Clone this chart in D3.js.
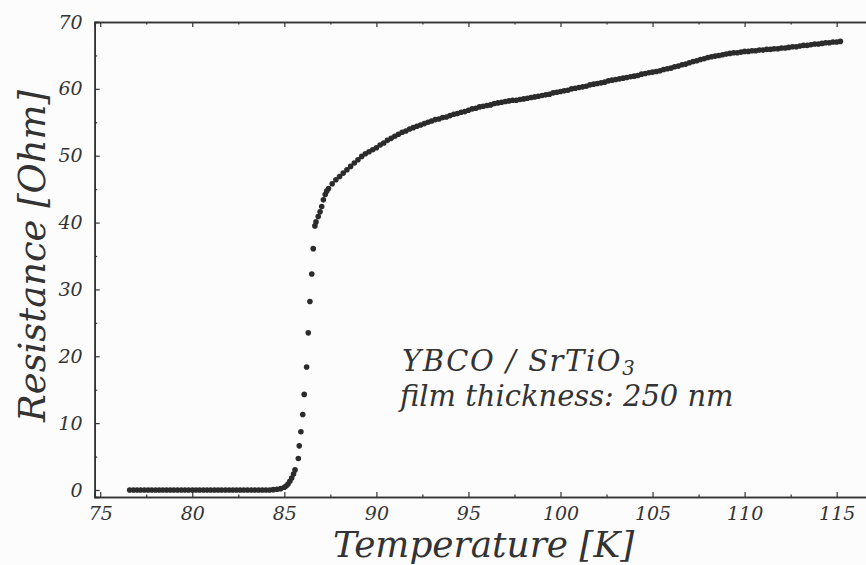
<!DOCTYPE html>
<html>
<head>
<meta charset="utf-8">
<script src="https://cdn.jsdelivr.net/npm/d3@7"></script>
<style>
  html, body { margin: 0; padding: 0; background: #fcfcfc; }
  svg { display: block; }
  text { font-family: "DejaVu Serif", "Liberation Serif", serif; font-style: italic; fill: #333; }
</style>
</head>
<body>
<svg id="chart" width="866" height="565"></svg>
<script>
// R(T) of a YBCO film on SrTiO3: superconducting plateau, transition, normal state
const tempK = [
  76.6, 76.8, 77.0, 77.2, 77.4, 77.6, 77.8, 78.0, 78.2, 78.4, 78.6, 78.8, 79.0, 79.2,
  79.4, 79.6, 79.8, 80.0, 80.2, 80.4, 80.6, 80.8, 81.0, 81.2, 81.4, 81.6, 81.8, 82.0,
  82.2, 82.4, 82.6, 82.8, 83.0, 83.2, 83.4, 83.6, 83.8, 84.0, 84.2, 84.4, 84.6,
  84.8, 85.0, 85.1, 85.2, 85.3, 85.4, 85.5, 85.58, 85.76, 85.81, 85.90, 86.00, 86.08,
  86.21, 86.30, 86.39, 86.49, 86.57, 86.66, 86.72, 86.84, 86.94, 87.03, 87.12, 87.22, 87.30,
  87.4, 87.6, 87.8, 88.0, 88.2, 88.4, 88.6, 88.8, 89.0, 89.2, 89.4, 89.6, 89.8, 90.0,
  90.2, 90.4, 90.6, 90.8, 91.0, 91.2, 91.4, 91.6, 91.8, 92.0, 92.2, 92.4, 92.6, 92.8,
  93.0, 93.2, 93.4, 93.6, 93.8, 94.0, 94.2, 94.4, 94.6, 94.8, 95.0, 95.2, 95.4, 95.6,
  95.8, 96.0, 96.2, 96.4, 96.6, 96.8, 97.0, 97.2, 97.4, 97.6, 97.8, 98.0, 98.2, 98.4,
  98.6, 98.8, 99.0, 99.2, 99.4, 99.6, 99.8, 100.0, 100.2, 100.4, 100.6, 100.8, 101.0,
  101.2, 101.4, 101.6, 101.8, 102.0, 102.2, 102.4, 102.6, 102.8, 103.0, 103.2, 103.4,
  103.6, 103.8, 104.0, 104.2, 104.4, 104.6, 104.8, 105.0, 105.2, 105.4, 105.6, 105.8,
  106.0, 106.2, 106.4, 106.6, 106.8, 107.0, 107.2, 107.4, 107.6, 107.8, 108.0, 108.2,
  108.4, 108.6, 108.8, 109.0, 109.2, 109.4, 109.6, 109.8, 110.0, 110.2, 110.4, 110.6,
  110.8, 111.0, 111.2, 111.4, 111.6, 111.8, 112.0, 112.2, 112.4, 112.6, 112.8, 113.0,
  113.2, 113.4, 113.6, 113.8, 114.0, 114.2, 114.4, 114.6, 114.8, 115.0, 115.2
];
const resOhm = [
  0.0, 0.0, 0.0, 0.0, 0.0, 0.0, 0.0, 0.0, 0.0, 0.0, 0.0, 0.0, 0.0, 0.0,
  0.0, 0.0, 0.0, 0.0, 0.0, 0.0, 0.0, 0.0, 0.0, 0.0, 0.0, 0.0, 0.0, 0.0,
  0.0, 0.0, 0.0, 0.0, 0.0, 0.0, 0.0, 0.0, 0.0, 0.0, 0.0, 0.05, 0.1,
  0.2, 0.4, 0.6, 0.9, 1.3, 1.8, 2.4, 3.0, 4.7, 6.6, 8.7, 11.3, 14.3,
  18.4, 23.5, 28.2, 32.3, 36.1, 39.5, 40.1, 40.9, 41.6, 42.4, 43.4, 44.2, 44.7,
  45.1, 45.8, 46.4, 46.9, 47.4, 47.9, 48.4, 48.9, 49.4, 49.9, 50.3, 50.6, 50.9, 51.2,
  51.6, 51.9, 52.3, 52.6, 52.9, 53.2, 53.5, 53.7, 54.0, 54.2, 54.4, 54.6, 54.8, 55.0,
  55.2, 55.4, 55.5, 55.7, 55.8, 56.0, 56.2, 56.3, 56.5, 56.6, 56.8, 57.0, 57.1, 57.3,
  57.4, 57.5, 57.6, 57.8, 57.9, 58.0, 58.1, 58.2, 58.3, 58.3, 58.4, 58.5, 58.6, 58.7,
  58.8, 58.9, 59.0, 59.1, 59.2, 59.4, 59.5, 59.6, 59.7, 59.8, 60.0, 60.1, 60.2,
  60.3, 60.4, 60.6, 60.7, 60.8, 60.9, 61.0, 61.2, 61.3, 61.4, 61.5, 61.6,
  61.7, 61.8, 61.9, 62.0, 62.2, 62.3, 62.4, 62.5, 62.6, 62.7, 62.9, 63.0,
  63.1, 63.3, 63.4, 63.6, 63.7, 63.9, 64.1, 64.2, 64.4, 64.5, 64.7, 64.8,
  64.9, 65.0, 65.1, 65.2, 65.3, 65.4, 65.4, 65.5, 65.6, 65.6, 65.7, 65.7,
  65.8, 65.8, 65.9, 65.9, 66.0, 66.0, 66.1, 66.1, 66.2, 66.3, 66.3, 66.4,
  66.5, 66.5, 66.6, 66.7, 66.7, 66.8, 66.9, 66.9, 67.0, 67.0, 67.1
];

const xMajorTicks = [75, 80, 85, 90, 95, 100, 105, 110, 115];
const xMinorTicks = [77.5, 82.5, 87.5, 92.5, 97.5, 102.5, 107.5, 112.5, 117.5];
const yMajorTicks = [0, 10, 20, 30, 40, 50, 60, 70];
const yMinorTicks = [5, 15, 25, 35, 45, 55, 65];

const xTitle = "Temperature [K]";
const yTitle = "Resistance [Ohm]";
const noteLine1 = "YBCO / SrTiO";
const noteSub = "3";
const noteLine2 = "film thickness: 250 nm";

const points = tempK.map((t, i) => ({ t, r: resOhm[i] }));

const svg = d3.select("#chart");
const ink = "#333";
const serif = "'DejaVu Serif', serif";

const plotL = 94.7, plotT = 22, plotB = 497, plotR = 873.5;
const x = d3.scaleLinear().domain([74.7, 117]).range([plotL, plotR]);
const y = d3.scaleLinear().domain([-1.05, 70]).range([plotB, plotT]);

// scale a text's font size so that its rendered width equals the given width
function fitWidth(sel, width) {
  const w = sel.node().getBBox().width;
  const fs = parseFloat(sel.attr("font-size"));
  sel.attr("font-size", (fs * width / w).toFixed(2));
  return sel;
}

// axes with inward ticks; unlabelled tick sets drop their empty text nodes
function tickSet(axis, transform) {
  return svg.append("g").attr("transform", transform).call(axis);
}
tickSet(d3.axisBottom(x).tickValues(xMajorTicks).tickSize(-5).tickPadding(10).tickFormat(d3.format("d")),
  `translate(0,${plotB})`);
tickSet(d3.axisBottom(x).tickValues(xMinorTicks).tickSize(-2.5).tickFormat(""), `translate(0,${plotB})`)
  .selectAll("text").remove();
tickSet(d3.axisTop(x).tickValues(xMajorTicks).tickSize(-5).tickFormat(""), `translate(0,${plotT})`)
  .selectAll("text").remove();
tickSet(d3.axisTop(x).tickValues(xMinorTicks).tickSize(-2.5).tickFormat(""), `translate(0,${plotT})`)
  .selectAll("text").remove();
tickSet(d3.axisLeft(y).tickValues(yMajorTicks).tickSize(-5).tickPadding(12).tickFormat(d3.format("d")),
  `translate(${plotL},0)`);
tickSet(d3.axisLeft(y).tickValues(yMinorTicks).tickSize(-2.5).tickFormat(""), `translate(${plotL},0)`)
  .selectAll("text").remove();

svg.selectAll(".domain").attr("stroke", ink).attr("stroke-width", 1.6);
svg.selectAll(".tick line").attr("stroke", ink).attr("stroke-width", 1.2);
svg.selectAll(".tick text")
  .style("font-family", serif).style("font-style", "italic")
  .style("font-size", "19px").attr("fill", ink);

// measurement points
svg.append("g").selectAll("circle").data(points).join("circle")
  .attr("cx", d => x(d.t)).attr("cy", d => y(d.r)).attr("r", 2.8)
  .attr("fill", "#2b2b2b");

// axis titles
const xt = svg.append("text").attr("x", 333).attr("y", 556.5)
  .attr("font-size", 34).text(xTitle);
fitWidth(xt, 302);
const yt = svg.append("text").attr("transform", "translate(45,422) rotate(-90)")
  .attr("font-size", 36).text(yTitle);
fitWidth(yt, 334);

// sample annotation, both lines in one size
const n2 = svg.append("text").attr("x", 400).attr("y", 406).attr("font-size", 24)
  .text(noteLine2);
fitWidth(n2, 336);
const noteSize = parseFloat(n2.attr("font-size"));
const n1 = svg.append("text").attr("x", 402).attr("y", 370.5).attr("font-size", noteSize);
n1.append("tspan").text(noteLine1);
n1.append("tspan").attr("dy", 4).attr("font-size", "0.68em").text(noteSub);
const w1 = n1.node().getBBox().width;
n1.attr("letter-spacing", Math.min(1.6, Math.max(0, (252 - w1) / 12)).toFixed(2));
</script>
</body>
</html>
